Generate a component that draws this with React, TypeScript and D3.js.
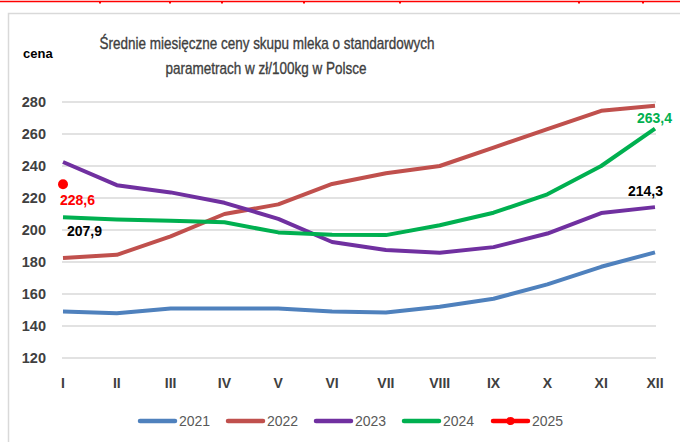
import React from "react";
import * as d3 from "d3";

const months = ["I", "II", "III", "IV", "V", "VI", "VII", "VIII", "IX", "X", "XI", "XII"];
const yTicks = [120, 140, 160, 180, 200, 220, 240, 260, 280];

const s2021 = [149, 148, 151, 151, 151, 149, 148.5, 152, 157, 166, 177, 186];
const s2022 = [182.5, 184.5, 196, 210, 216, 228.8, 235.5, 240, 251.5, 263, 274.5, 277.7];
const s2023 = [242.5, 228, 223.5, 217, 207, 192.5, 187.5, 185.8, 189.3, 197.8, 210.6, 214.3];
const s2024 = [207.9, 206.5, 205.8, 204.8, 198.5, 197, 196.8, 203, 210.8, 222.3, 240, 263.4];
const s2025 = [228.6];

const seriesNames = ["2021", "2022", "2023", "2024", "2025"];
const seriesColors = ["#4f81bd", "#c0504d", "#7030a0", "#00b050", "#ff0000"];
const seriesValues = [s2021, s2022, s2023, s2024, s2025];

// tiny red fragments along the cropped top edge
const topMarks = [100, 170, 222, 304, 400, 579, 643];

const W = 680;
const H = 442;

export default function App() {
  const x = d3.scalePoint<string>().domain(months).range([63, 655]);
  const y = d3.scaleLinear().domain([120, 280]).range([358, 102]);

  const line = d3
    .line<number>()
    .x((_, i) => x(months[i]) as number)
    .y((d) => y(d));

  const font = "'Liberation Sans', Arial, sans-serif";
  const legendX = [138, 226, 314, 402, 491];
  const fmt = (v: number) => v.toFixed(1).replace(".", ",");

  return (
    <svg
      width={W}
      height={H}
      style={{ position: "fixed", left: 0, top: 0, background: "#fff" }}
      fontFamily={font}
    >
      <rect x={0} y={0} width={W} height={H} fill="#fff" />
      <line x1={0} x2={W} y1={1.5} y2={1.5} stroke="#ff0000" strokeWidth={1.5} />
      {topMarks.map((m) => (
        <rect key={m} x={m - 1} y={1} width={2} height={2.5} fill="#ff0000" />
      ))}
      {/* chart frame */}
      <rect x={8.5} y={13.5} width={W} height={H} fill="none" stroke="#d9d9d9" strokeWidth={1.5} />

      {/* title */}
      <text x={267} y={49} textAnchor="middle" fontSize={17} fill="#404040"
        stroke="#404040" strokeWidth={0.35}
        textLength={335} lengthAdjust="spacingAndGlyphs">
        Średnie miesięczne ceny  skupu mleka o standardowych
      </text>
      <text x={266} y={74} textAnchor="middle" fontSize={17} fill="#404040"
        stroke="#404040" strokeWidth={0.35}
        textLength={201} lengthAdjust="spacingAndGlyphs">
        parametrach  w zł/100kg w Polsce
      </text>
      <text x={23} y={58} fontSize={13} fontWeight="bold" fill="#000">
        cena
      </text>

      {/* grid + y labels */}
      {yTicks.map((t) => (
        <g key={t}>
          <line x1={62} x2={656} y1={y(t)} y2={y(t)} stroke="#d9d9d9" strokeWidth={1.5} />
          <text x={46} y={y(t) + 5} textAnchor="end" fontSize={14.5} fontWeight="bold" fill="#404040">
            {t}
          </text>
        </g>
      ))}

      {/* x labels */}
      {months.map((m) => (
        <text key={m} x={x(m)} y={388} textAnchor="middle" fontSize={14} fontWeight="bold" fill="#404040">
          {m}
        </text>
      ))}

      {/* series */}
      {seriesValues.slice(0, 4).map((vals, i) => (
        <path
          key={seriesNames[i]}
          d={line(vals) ?? ""}
          fill="none"
          stroke={seriesColors[i]}
          strokeWidth={4}
          strokeLinejoin="round"
        />
      ))}
      {s2025.map((v, i) => (
        <circle key={i} cx={x(months[i])} cy={y(v)} r={5} fill="#ff0000" />
      ))}

      {/* data labels */}
      <text x={60} y={205} fontSize={14} fontWeight="bold" fill="#ff0000">
        {fmt(s2025[0])}
      </text>
      <text x={67} y={236} fontSize={14} fontWeight="bold" fill="#000">
        {fmt(s2024[0])}
      </text>
      <text x={672} y={123} textAnchor="end" fontSize={14} fontWeight="bold" fill="#00b050">
        {fmt(s2024[11])}
      </text>
      <text x={663} y={196} textAnchor="end" fontSize={14} fontWeight="bold" fill="#000">
        {fmt(s2023[11])}
      </text>

      {/* legend */}
      {seriesNames.map((n, i) => (
        <g key={n} transform={`translate(${legendX[i]},421)`}>
          <line x1={2} x2={37} y1={0} y2={0} stroke={seriesColors[i]} strokeWidth={4.5} strokeLinecap="round" />
          {n === "2025" && <circle cx={19.5} cy={0} r={4} fill={seriesColors[i]} />}
          <text x={41} y={5} fontSize={14} fill="#595959">
            {n}
          </text>
        </g>
      ))}
    </svg>
  );
}
